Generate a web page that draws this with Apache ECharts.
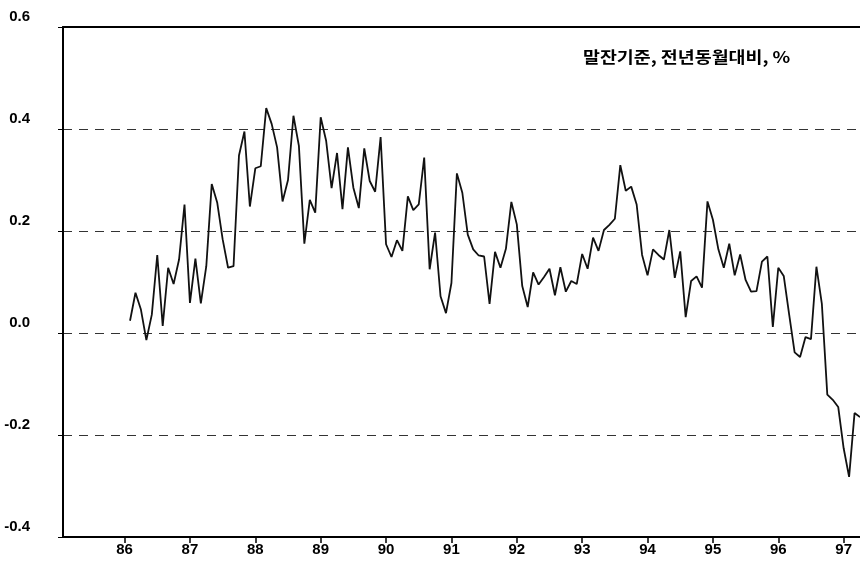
<!DOCTYPE html>
<html>
<head>
<meta charset="utf-8">
<script src="https://cdn.jsdelivr.net/npm/echarts@6/dist/echarts.min.js"></script>
<style>
html,body{margin:0;padding:0;background:#fff;}
#chart{width:860px;height:562px;}
</style>
</head>
<body>
<div id="chart"></div>
<script>
// Monthly series, starting February 1986
const startYear = 86;
const startMonth = 2;
const values = [
  0.024, 0.079, 0.046, -0.014, 0.036, 0.153, 0.014, 0.128, 0.096, 0.144, 0.252, 0.059,
  0.146, 0.058, 0.131, 0.292, 0.256, 0.184, 0.128, 0.131, 0.348, 0.395, 0.248, 0.323,
  0.327, 0.441, 0.410, 0.364, 0.258, 0.300, 0.426, 0.367, 0.175, 0.261, 0.236, 0.423,
  0.377, 0.284, 0.353, 0.243, 0.364, 0.285, 0.245, 0.362, 0.298, 0.277, 0.384, 0.174,
  0.149, 0.182, 0.161, 0.268, 0.241, 0.252, 0.344, 0.125, 0.197, 0.072, 0.039, 0.098,
  0.313, 0.275, 0.193, 0.164, 0.152, 0.150, 0.057, 0.159, 0.128, 0.165, 0.257, 0.213,
  0.092, 0.051, 0.119, 0.095, 0.110, 0.126, 0.074, 0.129, 0.081, 0.102, 0.096, 0.155,
  0.126, 0.187, 0.161, 0.202, 0.212, 0.224, 0.329, 0.279, 0.287, 0.252, 0.153, 0.113,
  0.164, 0.153, 0.144, 0.202, 0.108, 0.160, 0.031, 0.102, 0.111, 0.089, 0.258, 0.222,
  0.164, 0.128, 0.175, 0.113, 0.154, 0.104, 0.081, 0.082, 0.140, 0.150, 0.012, 0.128,
  0.112, 0.036, -0.038, -0.047, -0.008, -0.012, 0.130, 0.057, -0.121, -0.131, -0.145, -0.226,
  -0.282, -0.157, -0.165
];
const yearTicks = [86, 87, 88, 89, 90, 91, 92, 93, 94, 95, 96, 97];
const yTicks = [-0.4, -0.2, 0.0, 0.2, 0.4, 0.6];
const noteText = '말잔기준, 전년동월대비, %';

const seriesData = values.map((v, i) => [startYear + (startMonth - 1 + i) / 12, v]);
const lastX = seriesData[seriesData.length - 1][0];

const chart = echarts.init(document.getElementById('chart'), null, {renderer: 'canvas'});
const fontFam = '"Liberation Sans", Arial, sans-serif';
chart.setOption({
  animation: false,
  backgroundColor: '#fff',
  grid: {left: 63, right: 0, top: 27, bottom: 25, containLabel: false},
  xAxis: [{
    type: 'value',
    min: 85.058,
    max: lastX,
    axisLine: {show: true, onZero: false, lineStyle: {color: '#000', width: 2}},
    axisTick: {show: true, customValues: yearTicks, length: 6, lineStyle: {color: '#000', width: 1.5}},
    axisLabel: {
      customValues: yearTicks,
      formatter: v => String(Math.round(v)),
      color: '#000', fontSize: 15, fontWeight: 'bold', fontFamily: fontFam, margin: 5
    },
    splitLine: {show: false}
  }, {
    type: 'value',
    position: 'top',
    min: 85.058,
    max: lastX,
    axisLine: {show: true, onZero: false, lineStyle: {color: '#000', width: 2}},
    axisTick: {show: false},
    axisLabel: {show: false},
    splitLine: {show: false}
  }],
  yAxis: {
    type: 'value',
    min: -0.4,
    max: 0.6,
    interval: 0.2,
    axisLine: {show: true, lineStyle: {color: '#000', width: 2}},
    axisTick: {show: true, inside: false, length: 5, lineStyle: {color: '#000', width: 1}},
    axisLabel: {
      formatter: v => v.toFixed(1),
      color: '#000', fontSize: 15, fontWeight: 'bold', fontFamily: fontFam,
      margin: 33, verticalAlign: 'bottom', padding: [0, 0, 3, 0]
    },
    splitLine: {show: true, lineStyle: {color: '#333', width: 1, type: [9, 7]}}
  },
  graphic: [{
    type: 'text',
    x: 583,
    y: 49,
    scaleX: 1.15,
    style: {
      text: noteText,
      fill: '#000',
      font: 'bold 16px "Noto Sans CJK KR", sans-serif'
    }
  }],
  series: [{
    type: 'line',
    xAxisIndex: 0,
    data: seriesData,
    showSymbol: false,
    symbol: 'none',
    lineStyle: {color: '#111', width: 1.8},
    clip: true
  }]
});
</script>
</body>
</html>
